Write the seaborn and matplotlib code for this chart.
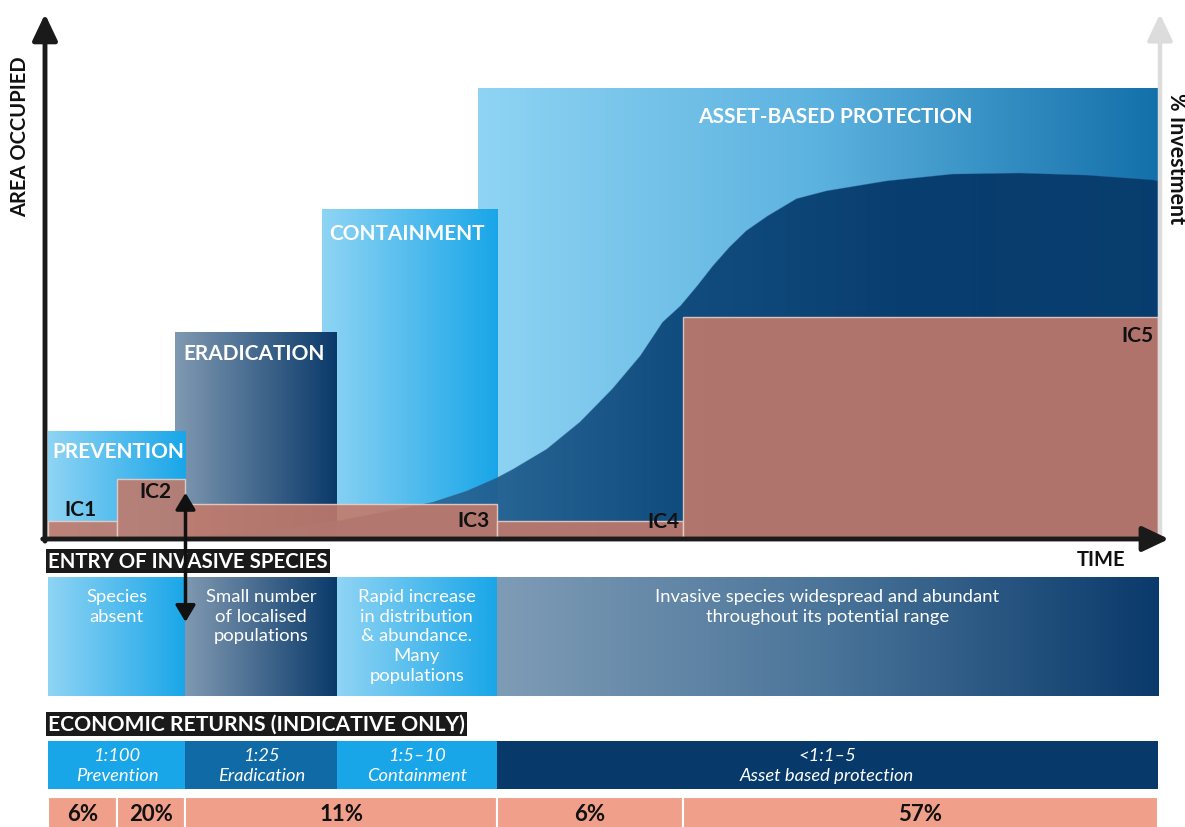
import numpy as np
import matplotlib
matplotlib.use("Agg")
import matplotlib.pyplot as plt
from matplotlib.colors import LinearSegmentedColormap
from matplotlib.patches import Rectangle
import seaborn as sns

sns.set_theme(style="white")
plt.rcParams['font.family'] = ['Lato', 'DejaVu Sans']

# ---------------- data ----------------
stage_names = ["PREVENTION", "ERADICATION", "CONTAINMENT", "ASSET-BASED PROTECTION"]
stage_start = [0.3, 11.7, 24.8, 38.8]
stage_end = [12.6, 26.2, 40.5, 99.8]
stage_height = [20.4, 39.4, 62.7, 85.9]

phase_edges = [0.3, 12.6, 26.2, 40.5, 99.8]

ic_labels = ["IC1", "IC2", "IC3", "IC4", "IC5"]
ic_edges = [0.3, 6.5, 12.6, 40.5, 57.2, 99.8]
ic_height = [3.4, 11.4, 6.7, 3.4, 42.3]
investment_pct = [6, 20, 11, 6, 57]

curve_time = [12.6, 19.3, 26.2, 31.8, 34.8, 37.8, 40.5, 42.0, 45.0, 48.0, 50.9,
              53.4, 55.4, 57.0, 58.5, 59.9, 61.4, 62.9, 64.8, 67.4, 70.1, 75.5,
              81.4, 87.4, 93.5, 99.4, 99.8]
curve_area = [0.3, 1.5, 3.4, 5.7, 7.0, 9.1, 11.6, 13.3, 17.1, 22.3, 28.6,
              34.9, 41.3, 44.4, 48.2, 52.0, 55.6, 58.7, 61.5, 64.8, 66.3, 68.2,
              69.5, 69.7, 69.3, 68.4, 68.2]

situations = ["Species\nabsent",
              "Small number\nof localised\npopulations",
              "Rapid increase\nin distribution\n& abundance.\nMany\npopulations",
              "Invasive species widespread and abundant\nthroughout its potential range"]
returns_ratio = ["1:100", "1:25", "1:5\u201310", "<1:1\u20135"]
returns_name = ["Prevention", "Eradication", "Containment", "Asset based protection"]

# ---------------- styles ----------------
LIGHT = "#8fd4f4"
BRIGHT = "#19a6e8"
GREYBLUE = "#8099b2"
NAVY = "#0a3a6a"
stage_grad = [[LIGHT, BRIGHT], [GREYBLUE, NAVY], [LIGHT, BRIGHT], [LIGHT, "#5cb2df", "#1470aa"]]
desc_grad = [[LIGHT, BRIGHT], [GREYBLUE, NAVY], [LIGHT, BRIGHT], ["#7f9cb6", "#4a7499", "#0a3a6b"]]
returns_col = ["#19a6e8", "#0f6aa5", "#19a6e8", "#073a6b"]
IC_COL = "#c27a6b"
PCT_COL = "#f0a08a"


def grad_rect(ax, x0, x1, y0, y1, colors, z, alpha=1.0):
    cmap = LinearSegmentedColormap.from_list("g", colors)
    im = ax.imshow(np.linspace(0, 1, 256).reshape(1, -1), cmap=cmap,
                   extent=(x0, x1, y0, y1), aspect="auto", zorder=z,
                   interpolation="bilinear", alpha=alpha)
    return im


W, H = 1185, 828
fig = plt.figure(figsize=(W / 100, H / 100), dpi=100)
fig.patch.set_facecolor("white")

L, R = 45 / W, 1160 / W
ax = fig.add_axes([L, 1 - 540 / H, R - L, (540 - 15) / H])
ax.axis("off")
ax.set_zorder(3)

# stage boxes (later stages behind earlier ones)
for i in reversed(range(4)):
    grad_rect(ax, stage_start[i], stage_end[i], 0, stage_height[i], stage_grad[i], z=1 + (3 - i))

# investment curve (dark area)
poly = ax.fill_between(curve_time, 0, curve_area, color="none", lw=0, zorder=6)
cim = grad_rect(ax, curve_time[0], 100, 0, 70,
                ["#1d6aa5", "#2a6898", "#0d477a", "#05386a", "#083c6c"], z=6, alpha=0.95)
cim.set_clip_path(poly.get_paths()[0], ax.transData)
sns.lineplot(x=curve_time, y=curve_area, ax=ax, color="#2a6494", lw=0.6, alpha=0.4, zorder=6)

# IC boxes
ic_left = ic_edges[:-1]
ic_w = np.diff(ic_edges)
ax.bar(ic_left, ic_height, width=ic_w, align="edge", color=IC_COL, alpha=0.9,
       edgecolor="#e8cfc8", linewidth=1.0, zorder=8)

# stage titles
title_pos = [(stage_start[0] + 0.4, stage_height[0] - 3.6, "left"),
             (stage_start[1] + 0.7, stage_height[1] - 4.0, "left"),
             (stage_start[2] + 0.7, stage_height[2] - 4.4, "left"),
             (70.9, stage_height[3] - 5.3, "center")]
for name, (x, y, ha) in zip(stage_names, title_pos):
    ax.text(x, y, name, color="white", fontsize=15, fontweight="bold", ha=ha, va="center", zorder=10)

# IC labels
ic_pos = [(3.2, 5.7, "center"), (9.9, 9.1, "center"), (39.9, 3.6, "right"),
          (56.9, 3.4, "right"), (99.4, 38.9, "right")]
for lab, (x, y, ha) in zip(ic_labels, ic_pos):
    ax.text(x, y, lab, color="#111111", fontsize=15, fontweight="bold", ha=ha, va="center", zorder=10)

ax.set_xlim(0, 100)
ax.set_ylim(0, 100)

# axes arrows
ax.annotate("", xy=(1.0, 1.0), xytext=(1.0, 0.0), xycoords="axes fraction",
            arrowprops=dict(arrowstyle="-|>,head_length=0.8,head_width=0.38", lw=3.2,
                            color="#dcdcdc", mutation_scale=20, shrinkA=0, shrinkB=0),
            annotation_clip=False, zorder=9)
ax.annotate("", xy=(0.0, 1.0), xytext=(0.0, -0.004), xycoords="axes fraction",
            arrowprops=dict(arrowstyle="-|>,head_length=0.8,head_width=0.38", lw=3.5,
                            color="#1a1a1a", mutation_scale=20, shrinkA=0, shrinkB=0),
            annotation_clip=False, zorder=12)
ax.annotate("", xy=(1.008, 0.0), xytext=(-0.002, 0.0), xycoords="axes fraction",
            arrowprops=dict(arrowstyle="-|>,head_length=0.8,head_width=0.38", lw=3.5,
                            color="#1a1a1a", mutation_scale=20, shrinkA=0, shrinkB=0),
            annotation_clip=False, zorder=12)

# entry arrow (double headed)
ax.annotate("", xy=(phase_edges[1], 8.8), xytext=(phase_edges[1], -15.8), xycoords="data",
            arrowprops=dict(arrowstyle="<|-|>,head_length=0.5,head_width=0.3", lw=2.5,
                            color="#111111", mutation_scale=20, shrinkA=0, shrinkB=0),
            annotation_clip=False, zorder=20)

# axis labels
fig.text(20 / W, 1 - 137 / H, "AREA OCCUPIED", rotation=90, fontsize=14.5, fontweight="bold",
         ha="center", va="center", color="#111111")
fig.text(1176 / W, 1 - 159 / H, "% Investment", rotation=-90, fontsize=15.5, fontweight="bold",
         ha="center", va="center", color="#111111")
fig.text(1101 / W, 1 - 560 / H, "TIME", fontsize=14.5, fontweight="bold",
         ha="center", va="center", color="#111111")

# ---------------- lower panel ----------------
axl = fig.add_axes([L, 0, R - L, 1 - 540 / H])
axl.axis("off")
axl.set_zorder(1)
axl.set_xlim(0, 100)
axl.set_ylim(288, 0)

# section header boxes
axl.text(phase_edges[0], 22, "ENTRY OF INVASIVE SPECIES", color="white", fontsize=14.7,
         fontweight="bold", ha="left", va="center",
         bbox=dict(boxstyle="square,pad=0.1", fc="#1a1a1a", ec="none"))
axl.text(phase_edges[0], 185, "ECONOMIC RETURNS (INDICATIVE ONLY)", color="white", fontsize=15.2,
         fontweight="bold", ha="left", va="center",
         bbox=dict(boxstyle="square,pad=0.1", fc="#1a1a1a", ec="none"))

for i in range(4):
    x0, x1 = phase_edges[i], phase_edges[i + 1]
    grad_rect(axl, x0, x1, 157, 38, desc_grad[i], z=2)
    axl.text((x0 + x1) / 2, 49, situations[i], color="white", fontsize=13.3,
             ha="center", va="top", linespacing=1.28, zorder=5)
    axl.add_patch(Rectangle((x0, 202), x1 - x0, 48, fc=returns_col[i], ec="none", zorder=2))
    axl.text((x0 + x1) / 2, 226, returns_ratio[i] + "\n" + returns_name[i], color="white",
             fontsize=13.2, style="italic", ha="center", va="center", linespacing=1.3, zorder=5)

axl.set_ylim(288, 0)
axl.set_xlim(0, 100)

# percentage row
axl.bar(ic_left, 40, bottom=258, width=ic_w, align="edge", color=PCT_COL,
        edgecolor="white", linewidth=1.5, zorder=2)
for j in range(5):
    axl.text(ic_left[j] + ic_w[j] / 2, 275, f"{investment_pct[j]}%", color="#111111",
             fontsize=16, fontweight="bold", ha="center", va="center", zorder=5)

ax.set_xlim(0, 100)
ax.set_ylim(0, 100)
fig.savefig("out.png", dpi=100, facecolor="white")
